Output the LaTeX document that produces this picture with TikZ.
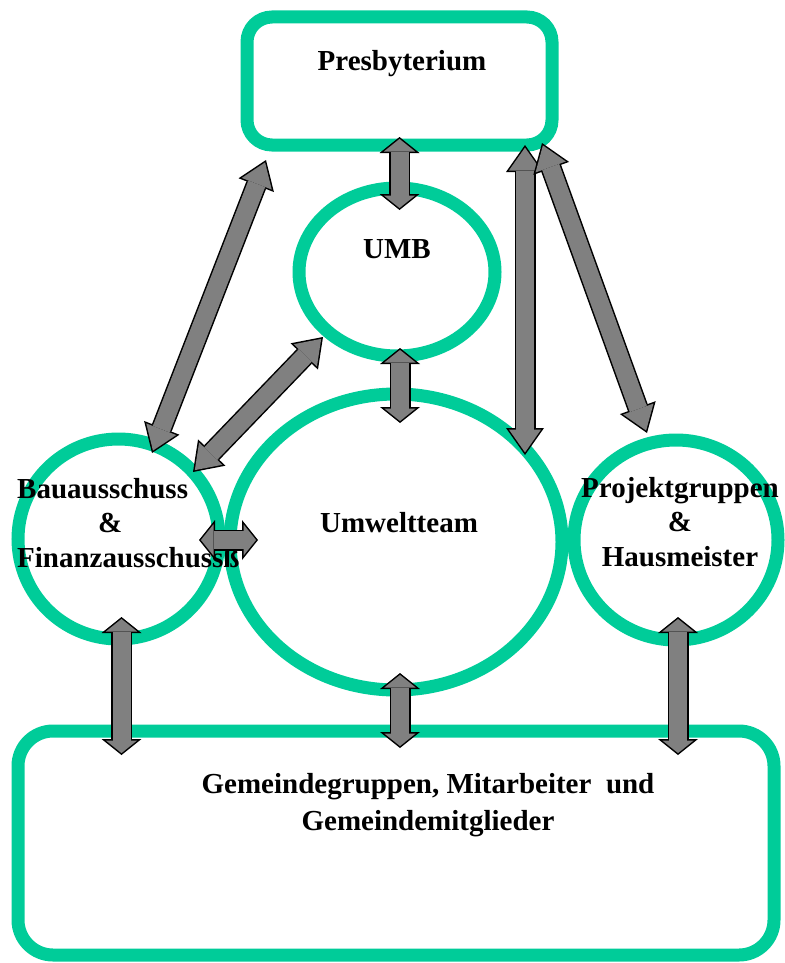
\documentclass[tikz,border=0pt]{standalone}
\usepackage{fontspec}
\setmainfont{Liberation Serif}
\usetikzlibrary{shapes.geometric,arrows.meta,calc}
\definecolor{ringgreen}{RGB}{0,204,153}
\begin{document}
\begin{tikzpicture}[x=1pt,y=-1pt]
            \tikzstyle{ring} = [draw=ringgreen, line width=13pt, ellipse, inner sep=0pt, outer sep=0pt]
            \tikzstyle{panel} = [draw=ringgreen, line width=13pt, rectangle, inner sep=0pt, outer sep=0pt]
            \tikzstyle{caption} = [font=\fontsize{29}{34.5}\selectfont\bfseries, inner sep=0pt]
            \tikzstyle{link} = [draw=black, line width=21pt,
                >={Triangle[width=40pt,length=16pt,line width=0pt]}, <->,
                postaction={draw=gray, line width=18pt,
                    >={Triangle[width=31.4pt,length=12.6pt,line width=0pt]}, <->,
                    shorten <=1.9pt, shorten >=1.9pt}]
            \tikzstyle{longlink} = [draw=black, line width=21pt,
                >={Triangle[width=38pt,length=27pt,line width=0pt]}, <->,
                postaction={draw=gray, line width=18pt,
                    >={Triangle[width=32.2pt,length=22.9pt,line width=0pt]}, <->,
                    shorten <=2.6pt, shorten >=2.6pt}]

            \useasboundingbox (0,0) rectangle (784,963);

            % boxes and circles
            \node [panel, rounded corners=25pt, minimum width=305pt, minimum height=128pt] (presb) at (399.5,81) {};
            \node [ring, minimum width=196pt, minimum height=168pt] (umb) at (397,272) {};
            \node [ring, minimum width=332pt, minimum height=296pt] (umwelt) at (396,542) {};
            \node [ring, minimum width=201pt, minimum height=200pt] (bau) at (118.5,539) {};
            \node [ring, minimum width=204pt, minimum height=200pt] (projekt) at (676,540) {};
            \node [panel, rounded corners=35pt, minimum width=756pt, minimum height=224pt] (gemeinde) at (396,843) {};

            % texts
            \node [caption, anchor=base] (presbtext) at (402,71) {Presbyterium};
            \node [caption, anchor=base] (umbtext) at (397,258) {UMB};
            \node [caption, anchor=base] (umwelttext) at (399,532) {Umweltteam};
            \node [caption, align=left, anchor=north west] (bautext) at (17,478)
                {Bauausschuss\\\hspace*{81pt}\&\\Finanzausschussß};
            \node [caption, align=center, anchor=north] (projekttext) at (680,477)
                {Projektgruppen\\\&\\Hausmeister};
            \node [caption, align=center, anchor=north] (gemeindetext) at (428,773)
                {Gemeindegruppen, Mitarbeiter~ und\\[3pt]Gemeindemitglieder};

            % arrows
            \draw [link] ($(presb.south)+(0,-8)$) -- ($(presb.south |- umb.north)+(0,22)$);
            \draw [link] ($(umb.south)+(3,-8)$) -- ($(umb.south |- umwelt.north)+(3,29)$);
            \draw [link] ($(umwelt.south)+(4,-17)$) -- ($(umwelt.south |- gemeinde.north)+(4,17)$);
            \draw [link] ($(bau.south)+(3,-22)$) -- ($(bau.south |- gemeinde.north)+(3,24)$);
            \draw [link] ($(projekt.south)+(2,-23)$) -- ($(projekt.south |- gemeinde.north)+(2,24)$);
            \draw [link] ($(bau.east)+(-20,1)$) -- ($(umwelt.west)+(28,-2)$);
            \draw [longlink] ($(bau)+(74.5,-67)$) -- ($(umb)+(-74,65)$);
            \draw [longlink] ($(bau)+(33.5,-86)$) -- ($(presb.south west)+(19,15)$);
            \draw [longlink] ($(presb.south east)+(-27,0)$) -- ($(presb.south east |- umwelt)+(-27,-87)$);
            \draw [longlink] ($(presb.south east)+(-10,-2)$) -- ($(projekt)+(-29,-107)$);
\end{tikzpicture}
\end{document}
